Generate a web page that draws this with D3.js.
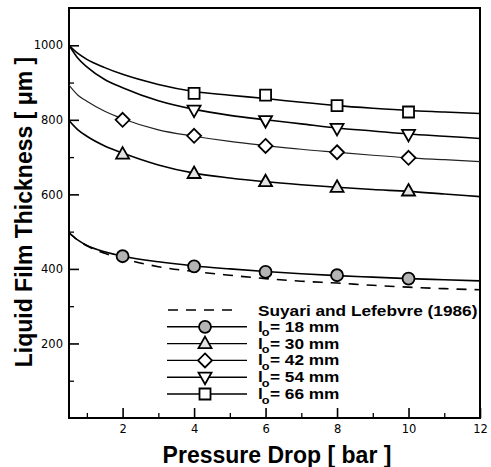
<!DOCTYPE html>
<html>
<head>
<meta charset="utf-8">
<script src="https://cdn.jsdelivr.net/npm/d3@7"></script>
<style>
  html, body { margin: 0; padding: 0; background: #fff; }
  svg { display: block; }
  text { font-family: "Liberation Sans", Arial, Helvetica, sans-serif; fill: #000; }
</style>
</head>
<body>
<svg id="chart" width="491" height="467"></svg>
<script>
// ---- data ----
const curveX  = [0.5, 0.75, 1, 1.5, 2, 3, 4, 5, 6, 7, 8, 9, 10, 11, 12];
const line66  = [1000, 978, 962, 940, 922, 895, 876, 866, 857, 847, 838, 831, 825, 821, 817];
const line54  = [1000, 965, 942, 908, 886, 851, 828, 812, 800, 789, 778, 770, 762, 756, 750];
const line42  = [893, 866, 850, 823, 803, 773, 756, 742, 731, 721, 713, 705, 698, 693, 688];
const line30  = [798, 773, 756, 730, 711, 679, 657, 644, 634, 626, 619, 613, 608, 601, 594];
const line18  = [497, 477, 463, 446, 434, 419, 408, 400, 393, 387, 382, 378, 374, 371, 368];
const suyari  = [497, 477, 462, 442, 428, 406, 393, 383, 374, 367, 362, 356, 351, 347, 344];

const markX5  = [2, 4, 6, 8, 10];
const markX4  = [4, 6, 8, 10];
const pts18   = [434, 407, 392, 383, 374];
const pts30   = [708, 656, 634, 619, 609];
const pts42   = [800, 757, 730, 713, 698];
const pts54   = [826, 798, 777, 761];
const pts66   = [871, 866, 838, 821];

const xMajorTicks = [2, 4, 6, 8, 10, 12];
const xMinorTicks = [1, 3, 5, 7, 9, 11];
const yMajorTicks = [200, 400, 600, 800, 1000];
const yMinorTicks = [100, 300, 500, 700, 900];

const legendLabels = ["18", "30", "42", "54", "66"];

// ---- layout ----
const svg = d3.select("#chart");
const L = 69, R = 480, T = 8, B = 418;
const x = d3.scaleLinear().domain([0.5, 12]).range([L, R]);
const y = d3.scaleLinear().domain([0, 1100]).range([B, T]);

const tickFont = '"DejaVu Sans", "Liberation Sans", sans-serif';

// axes (ticks inward)
const gx = svg.append("g").attr("transform", `translate(0,${B})`)
  .call(d3.axisBottom(x).tickValues(xMajorTicks).tickSize(-10).tickSizeOuter(0).tickPadding(7).tickFormat(d3.format("d")));
gx.select(".domain").remove();
gx.selectAll("text").style("font-size", "11.5px").style("font-family", tickFont);
gx.selectAll("line").attr("stroke-width", 1.6);
const gxm = svg.append("g").attr("transform", `translate(0,${B})`)
  .call(d3.axisBottom(x).tickValues(xMinorTicks).tickSize(-5).tickSizeOuter(0).tickFormat(""));
gxm.select(".domain").remove();
gxm.selectAll("line").attr("stroke-width", 1.3);

const gy = svg.append("g").attr("transform", `translate(${L},0)`)
  .call(d3.axisLeft(y).tickValues(yMajorTicks).tickSize(-10).tickSizeOuter(0).tickPadding(6).tickFormat(d3.format("d")));
gy.select(".domain").remove();
gy.selectAll("text").style("font-size", "11.5px").style("font-family", tickFont);
gy.selectAll("line").attr("stroke-width", 1.6);
const gym = svg.append("g").attr("transform", `translate(${L},0)`)
  .call(d3.axisLeft(y).tickValues(yMinorTicks).tickSize(-5).tickSizeOuter(0).tickFormat(""));
gym.select(".domain").remove();
gym.selectAll("line").attr("stroke-width", 1.3);

// frame
svg.append("rect").attr("x", L).attr("y", T).attr("width", R - L).attr("height", B - T)
  .attr("fill", "none").attr("stroke", "#000").attr("stroke-width", 2);

// curves
const lineGen = d3.line().x(d => x(d[0])).y(d => y(d[1])).curve(d3.curveMonotoneX);
const zip = (xs, ys) => xs.map((v, i) => [v, ys[i]]);

const clip = svg.append("clipPath").attr("id", "clip").append("rect")
  .attr("x", L).attr("y", T).attr("width", R - L).attr("height", B - T);
const plot = svg.append("g").attr("clip-path", "url(#clip)");

plot.append("path").attr("d", lineGen(zip(curveX, suyari)))
  .attr("fill", "none").attr("stroke", "#000").attr("stroke-width", 1.6).attr("stroke-dasharray", "10,8");
[[line18, 1.6, "#000"], [line30, 1.6, "#000"], [line42, 1.2, "#222"], [line54, 1.6, "#000"], [line66, 1.6, "#000"]]
  .forEach(([ys, w, c]) => {
    plot.append("path").attr("d", lineGen(zip(curveX, ys)))
      .attr("fill", "none").attr("stroke", c).attr("stroke-width", w);
  });

// markers
const shapes = {
  circle: "M6,0A6,6 0 1,1 -6,0A6,6 0 1,1 6,0Z",
  up: "M0,-7L6.5,4.5L-6.5,4.5Z",
  diamond: "M0,-7L7,0L0,7L-7,0Z",
  down: "M0,7L6.5,-4.5L-6.5,-4.5Z",
  square: "M-5.5,-5.5L5.5,-5.5L5.5,5.5L-5.5,5.5Z"
};
const styles = {
  circle: "#b4b4b4", up: "#e4e4e4", diamond: "#fff", down: "#fff", square: "#fff"
};
function drawMarkers(xs, ys, shape) {
  svg.append("g").selectAll("path").data(zip(xs, ys)).join("path")
    .attr("d", shapes[shape])
    .attr("transform", d => `translate(${x(d[0])},${y(d[1])})`)
    .attr("fill", styles[shape]).attr("stroke", "#000").attr("stroke-width", 1.8);
}
drawMarkers(markX5, pts18, "circle");
drawMarkers(markX5, pts30, "up");
drawMarkers(markX5, pts42, "diamond");
drawMarkers(markX4, pts54, "down");
drawMarkers(markX4, pts66, "square");

// legend
const leg = svg.append("g");
const rowY = [310, 326.8, 343.6, 360.4, 377.2, 394];
leg.append("line").attr("x1", 168).attr("x2", 236).attr("y1", rowY[0]).attr("y2", rowY[0])
  .attr("stroke", "#000").attr("stroke-width", 1.6).attr("stroke-dasharray", "10,8");
leg.append("text").attr("transform", `translate(258,${rowY[0] + 5.5}) scale(1.15,1)`)
  .style("font-size", "15px").style("font-weight", "bold")
  .text("Suyari and Lefebvre (1986)");
const legShapes = ["circle", "up", "diamond", "down", "square"];
legShapes.forEach((s, i) => {
  const yy = rowY[i + 1];
  leg.append("line").attr("x1", 167).attr("x2", 247).attr("y1", yy).attr("y2", yy)
    .attr("stroke", "#000").attr("stroke-width", 1.4);
  leg.append("path").attr("d", shapes[s]).attr("transform", `translate(205,${yy})`)
    .attr("fill", styles[s]).attr("stroke", "#000").attr("stroke-width", 1.8);
  const t = leg.append("text").attr("transform", `translate(258,${yy + 5}) scale(1.15,1)`)
    .style("font-size", "15px").style("font-weight", "bold");
  t.append("tspan").text("l");
  t.append("tspan").attr("dy", 4.5).attr("dx", -1).style("font-size", "11px").text("o");
  t.append("tspan").attr("dy", -4.5).attr("dx", 0.5).text("= " + legendLabels[i] + " mm");
});

// axis titles
svg.append("text").attr("x", 277).attr("y", 463).attr("text-anchor", "middle")
  .style("font-size", "23px").style("font-weight", "bold")
  .text("Pressure Drop [ bar ]");
svg.append("text").attr("transform", "translate(32,212) rotate(-90)").attr("text-anchor", "middle")
  .style("font-size", "23px").style("font-weight", "bold")
  .text("Liquid Film Thickness [ μm ]");
</script>
</body>
</html>
